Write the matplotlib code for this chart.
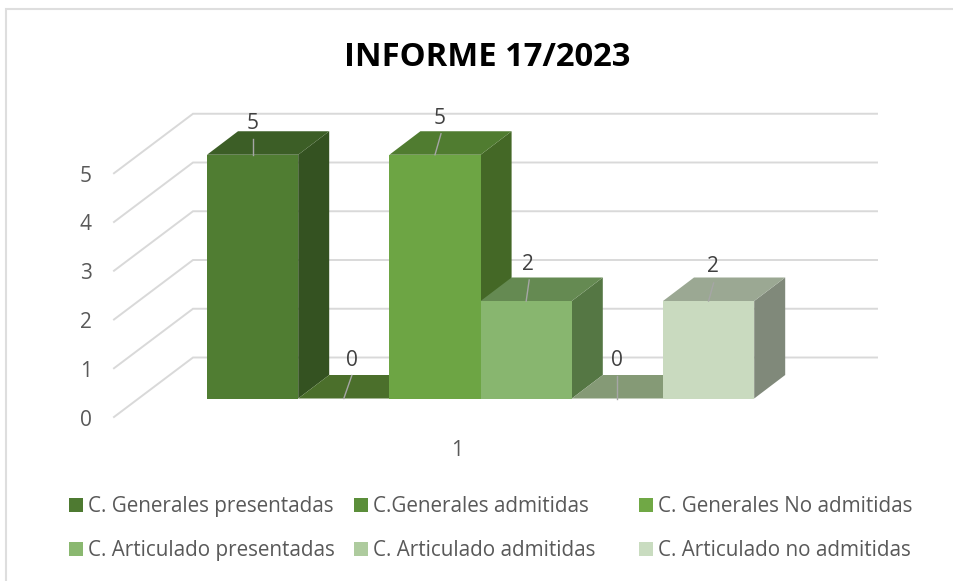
import matplotlib
matplotlib.use("Agg")
import matplotlib.pyplot as plt
from matplotlib.patches import Patch

plt.rcParams['font.family'] = ['Open Sans', 'DejaVu Sans']

W, H = 954, 581

# data
category = "1"
title = "INFORME 17/2023"
series = ["C. Generales presentadas", "C.Generales admitidas", "C. Generales No admitidas",
          "C. Articulado presentadas", "C. Articulado admitidas", "C. Articulado no admitidas"]
values = [5, 0, 5, 2, 0, 2]
y_ticks = [0, 1, 2, 3, 4, 5]

# front, top, side of each box + legend swatch
front = ["#507d32", "#5b8e3a", "#6da544", "#88b66f", "#aecb9e", "#c9dabf"]
top = ["#3c5e26", "#4b6f2b", "#507c30", "#658a52", "#859a76", "#9ba893"]
side = ["#345221", "#43622a", "#446826", "#557744", "#6f8264", "#80897a"]
swatch = ["#4e7a31", "#5b8e3a", "#70a845", "#8ab870", "#aecb9e", "#c9dcc0"]

# pixel scale of the data units
x0_px, y0_px = 207.0, 398.5
bar_px, unit_px = 91.2, 48.75
dx = 31.0 / bar_px    # box depth
dy = 23.5 / unit_px
text_drop = 3 / unit_px    # Open Sans sits a bit high when centred

fig = plt.figure(figsize=(W / 100, H / 100), dpi=100)
ax = fig.add_axes([0, 0, 1, 1])
ax.set_xlim(-x0_px / bar_px, (W - x0_px) / bar_px)
ax.set_ylim((y0_px - H) / unit_px, y0_px / unit_px)
ax.axis("off")


def px(x, y):
    return (x - x0_px) / bar_px, (y0_px - y) / unit_px


# chart frame, only left and top are inside the crop
bl, tl, tr = px(6, 581), px(6, 9), px(954, 9)
ax.plot([bl[0], tl[0], tr[0]], [bl[1], tl[1], tr[1]], color="#dedede", lw=1.5, zorder=1,
        solid_joinstyle="miter")

# gridlines: side wall then back wall
floor_front = (398.5 - 417) / unit_px
floor_back = (398.5 - 357.5) / unit_px
wall_left = px(114, 0)[0]
wall_corner = px(193, 0)[0]
wall_right = px(877, 0)[0]
for v in y_ticks:
    ax.plot([wall_left, wall_corner, wall_right], [v + floor_front, v + floor_back, v + floor_back],
            color="#d9d9d9", lw=1.4, zorder=1, solid_joinstyle="miter")
    lx, ly = px(86, 0)[0], v + floor_front - text_drop
    ax.text(lx, ly, str(v), ha="center", va="center", fontsize=15, color="#595959")

# boxes, one after the other on the same floor
for i, v in enumerate(values):
    xs, xe = i, i + 1
    ax.fill([xe, xe + dx, xe + dx, xe], [0, dy, v + dy, v], color=side[i], lw=0, zorder=2 + i)
    ax.fill([xs, xe, xe + dx, xs + dx], [v, v, v + dy, v + dy], color=top[i], lw=0, zorder=2 + i)
    if v > 0:
        ax.fill([xs, xe, xe, xs], [0, 0, v, v], color=front[i], lw=0, zorder=2 + i)

# data labels with leader lines, offsets in px from the middle of the box top
label_off = [(0, 15.5, 0, 34), (8, 23, 8, 41.5), (6, 21, 5, 39),
             (3, 21, 2, 39), (0, 23, 0, 41), (5, 18, 4.5, 37)]
for i, v in enumerate(values):
    lean, up, txt_x, txt_up = label_off[i]
    xs = i + 0.5
    ax.plot([xs, xs + lean / bar_px], [v, v + up / unit_px], color="#a6a6a6", lw=1.0, zorder=20)
    ax.text(xs + txt_x / bar_px, v + txt_up / unit_px - text_drop, str(v), ha="center", va="center",
            fontsize=15, color="#404040", zorder=21)

# category label
cx, cy = px(457, 451)
ax.text(cx, cy, category, ha="center", va="center", fontsize=15, color="#595959")

# title
tx, ty = px(487, 58)
ax.text(tx, ty, title, ha="center", va="center", fontsize=23.6, fontweight="bold", color="black")

# legend, three columns of two
for c, left in enumerate([69, 354, 639]):
    handles = [Patch(facecolor=swatch[c], label=series[c]),
               Patch(facecolor=swatch[c + 3], label=series[c + 3])]
    fig.legend(handles=handles, loc="center left",
               bbox_to_anchor=(left / W, 1 - 528.5 / H), frameon=False,
               fontsize=14.9, labelcolor="#595959", handlelength=0.68, handleheight=0.68,
               handletextpad=0.24, labelspacing=1.12, borderpad=0, borderaxespad=0)

fig.savefig("out.png", dpi=100)
